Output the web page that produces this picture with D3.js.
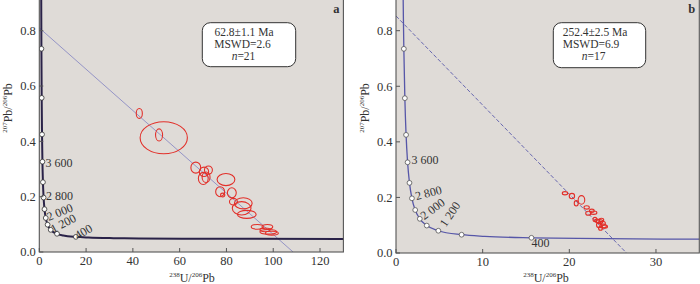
<!DOCTYPE html>
<html>
<head>
<meta charset="utf-8">
<script src="https://cdn.jsdelivr.net/npm/d3@7"></script>
<style>
body { margin: 0; background: #fff; }
svg text { font-family: "Liberation Serif", "Times New Roman", serif; fill: #333; }
</style>
</head>
<body>
<div id="chart"></div>
<script>
// Tera-Wasserburg concordia (age Ma, 238U/206Pb, 207Pb/206Pb)
var concAge = [40, 50, 100, 150, 200, 300, 400, 600, 800, 1200, 1600, 2000, 2400, 2800, 3200, 3600, 4000, 4400, 4800, 5000, 5200];
var concX = [160.6, 128.4, 63.97, 42.48, 31.73, 20.99, 15.63, 10.25, 7.57, 4.888, 3.55, 2.748, 2.217, 1.838, 1.556, 1.337, 1.163, 1.022, 0.905, 0.853, 0.806];
var concY = [0.0468, 0.0470, 0.0480, 0.0491, 0.0501, 0.0523, 0.0547, 0.0599, 0.0658, 0.0801, 0.0987, 0.1230, 0.1548, 0.1968, 0.2524, 0.3264, 0.4251, 0.5572, 0.7347, 0.8455, 0.973];
var markerAges = [400, 800, 1200, 1600, 2000, 2400, 2800, 3200, 3600, 4000, 4400, 4800];

// error ellipses: [x, y, rx, ry]
var ellipsesA = [
  [42.75, 0.501, 1.3, 0.018],
  [53.2, 0.413, 10.1, 0.058],
  [51.2, 0.423, 1.5, 0.022],
  [66.9, 0.305, 2.1, 0.020],
  [70.4, 0.290, 2.0, 0.017],
  [72.3, 0.296, 1.7, 0.015],
  [70.1, 0.266, 2.1, 0.022],
  [71.3, 0.270, 1.7, 0.019],
  [79.8, 0.262, 3.8, 0.022],
  [77.3, 0.218, 1.9, 0.018],
  [78.4, 0.206, 0.9, 0.007],
  [82.3, 0.214, 1.9, 0.018],
  [83.0, 0.182, 1.7, 0.012],
  [87.2, 0.176, 3.8, 0.020],
  [86.5, 0.158, 4.0, 0.024],
  [88.7, 0.136, 4.0, 0.0145],
  [93.2, 0.091, 2.6, 0.0085],
  [97.5, 0.091, 2.3, 0.0085],
  [96.5, 0.080, 2.2, 0.007],
  [97.9, 0.073, 3.6, 0.0085],
  [99.4, 0.068, 2.8, 0.007]
];
var ellipsesB = [
  [19.5, 0.215, 0.31, 0.006],
  [20.3, 0.205, 0.31, 0.0096],
  [20.8, 0.179, 0.23, 0.0096],
  [21.4, 0.191, 0.38, 0.0156],
  [22.0, 0.164, 0.31, 0.006],
  [22.2, 0.143, 0.31, 0.0072],
  [22.6, 0.152, 0.27, 0.006],
  [22.8, 0.145, 0.38, 0.006],
  [22.96, 0.121, 0.23, 0.0072],
  [23.2, 0.116, 0.27, 0.006],
  [23.7, 0.119, 0.27, 0.006],
  [23.5, 0.113, 0.38, 0.0072],
  [23.85, 0.107, 0.31, 0.0072],
  [23.45, 0.101, 0.31, 0.0096],
  [23.9, 0.097, 0.38, 0.0072],
  [24.1, 0.095, 0.31, 0.006],
  [23.6, 0.089, 0.23, 0.0072]
];

var discordiaA = [[0, 0.81], [108.5, 0]];
var discordiaB = [[0, 0.853], [26.6, 0]];

var xTicksA = [0, 20, 40, 60, 80, 100, 120];
var xTicksB = [0, 10, 20, 30];
var yTicks = [0, 0.2, 0.4, 0.6, 0.8];

var boxTextA = ["62.8\u00b11.1 Ma", "MSWD=2.6", "=21"];
var boxTextB = ["252.4\u00b12.5 Ma", "MSWD=6.9", "=17"];

var width = 700, height = 284;

var svg = d3.select("#chart").append("svg")
    .attr("width", width)
    .attr("height", height);

var conc = concAge.map(function(a, i) { return {age: a, x: concX[i], y: concY[i]}; })
    .sort(function(p, q) { return p.x - q.x; });

function drawPanel(p) {
    var x = d3.scaleLinear().domain(p.xDomain).range([p.left, p.right]);
    var y = d3.scaleLinear().domain([0, 0.8]).range([p.bottom, p.y08]);
    var top = -2;
    var g = svg.append("g");

    g.append("clipPath").attr("id", "clip" + p.id)
      .append("rect")
        .attr("x", p.left).attr("y", top)
        .attr("width", p.right - p.left).attr("height", p.bottom - top);

    g.append("rect")
        .attr("x", p.left).attr("y", top)
        .attr("width", p.right - p.left).attr("height", p.bottom - top)
        .attr("fill", "#dfdbd7");

    var inner = g.append("g").attr("clip-path", "url(#clip" + p.id + ")");

    // discordia
    inner.append("line")
        .attr("x1", x(p.disc[0][0])).attr("y1", y(p.disc[0][1]))
        .attr("x2", x(p.disc[1][0])).attr("y2", y(p.disc[1][1]))
        .attr("stroke", p.discColor)
        .attr("stroke-width", 0.9)
        .attr("stroke-dasharray", p.dash);

    // concordia
    var line = d3.line()
        .x(function(d) { return x(d.x); })
        .y(function(d) { return y(d.y); })
        .curve(d3.curveMonotoneX);
    inner.append("path")
        .attr("d", line(conc))
        .attr("fill", "none")
        .attr("stroke", p.concColor)
        .attr("stroke-width", p.concWidth);

    // ellipses
    inner.selectAll("ellipse")
        .data(p.ellipses)
      .enter().append("ellipse")
        .attr("cx", function(d) { return x(d[0]); })
        .attr("cy", function(d) { return y(d[1]); })
        .attr("rx", function(d) { return x(d[2]) - x(0); })
        .attr("ry", function(d) { return y(0) - y(d[3]); })
        .attr("fill", "none")
        .attr("stroke", "#e2302a")
        .attr("stroke-width", 1.1);

    // age markers
    var marks = conc.filter(function(d) { return markerAges.indexOf(d.age) >= 0; });
    inner.selectAll("circle")
        .data(marks)
      .enter().append("circle")
        .attr("cx", function(d) { return x(d.x); })
        .attr("cy", function(d) { return y(d.y); })
        .attr("r", 2.4)
        .attr("fill", "#fff")
        .attr("stroke", p.markColor)
        .attr("stroke-width", 0.8);

    p.ageLabels.forEach(function(l) {
        var d = conc.filter(function(c) { return c.age === l.age; })[0];
        var px = x(d.x) + l.dx, py = y(d.y) + l.dy;
        g.append("text")
            .attr("transform", "translate(" + px + "," + py + ") rotate(" + l.rot + ")")
            .attr("font-size", 12)
            .text(l.text);
    });

    // frame
    g.append("rect")
        .attr("x", p.left).attr("y", top)
        .attr("width", p.right - p.left).attr("height", p.bottom - top)
        .attr("fill", "none")
        .attr("stroke", "#555")
        .attr("stroke-width", 1.1);

    // ticks (inward)
    g.selectAll(".yt").data(yTicks).enter().append("line")
        .attr("x1", p.left).attr("x2", p.left + 4)
        .attr("y1", function(d) { return y(d); }).attr("y2", function(d) { return y(d); })
        .attr("stroke", "#555");
    g.selectAll(".yl").data(yTicks).enter().append("text")
        .attr("x", p.left - 3.5)
        .attr("y", function(d) { return y(d) + 4.3; })
        .attr("text-anchor", "end")
        .attr("font-size", 12.5)
        .text(function(d) { return d.toFixed(1); });
    g.selectAll(".xt").data(p.xTicks).enter().append("line")
        .attr("y1", p.bottom).attr("y2", p.bottom - 4)
        .attr("x1", function(d) { return x(d); }).attr("x2", function(d) { return x(d); })
        .attr("stroke", "#555");
    g.selectAll(".xl").data(p.xTicks).enter().append("text")
        .attr("x", function(d) { return x(d); })
        .attr("y", p.bottom + 12.5)
        .attr("text-anchor", "middle")
        .attr("font-size", 12.5)
        .text(function(d) { return d; });

    // axis titles
    var xt = g.append("text")
        .attr("x", p.xTitleX).attr("y", 282)
        .attr("text-anchor", "middle")
        .attr("font-size", 12);
    xt.append("tspan").attr("font-size", 7).attr("dy", -5).text("238");
    xt.append("tspan").attr("dy", 5).text("U/");
    xt.append("tspan").attr("font-size", 7).attr("dy", -5).text("206");
    xt.append("tspan").attr("dy", 5).text("Pb");

    var yt = g.append("text")
        .attr("transform", "translate(" + p.yTitleX + "," + p.yTitleY + ") rotate(-90)")
        .attr("text-anchor", "middle")
        .attr("font-size", 12);
    yt.append("tspan").attr("font-size", 7).attr("dy", -5).text("207");
    yt.append("tspan").attr("dy", 5).text("Pb/");
    yt.append("tspan").attr("font-size", 7).attr("dy", -5).text("206");
    yt.append("tspan").attr("dy", 5).text("Pb");

    // result box
    g.append("rect")
        .attr("x", p.box[0]).attr("y", p.box[1])
        .attr("width", p.box[2]).attr("height", p.box[3])
        .attr("rx", 8).attr("ry", 8)
        .attr("fill", "#fff")
        .attr("stroke", "#333")
        .attr("stroke-width", 1);
    p.boxText.forEach(function(t, i) {
        var tx = g.append("text")
            .attr("x", p.boxTextX[i])
            .attr("y", p.box[1] + 13.5 + i * 12)
            .attr("text-anchor", p.boxAnchor)
            .attr("font-size", 11.5)
            .attr("fill", "#222");
        if (i === 2) {
            tx.append("tspan").attr("font-style", "italic").text("n");
            tx.append("tspan").text(t);
        } else {
            tx.text(t);
        }
    });

    g.append("text")
        .attr("x", p.right - 4).attr("y", 13)
        .attr("text-anchor", "end")
        .attr("font-size", 12.5)
        .attr("font-weight", "bold")
        .attr("fill", "#222")
        .text(p.id);
}

drawPanel({
    id: "a",
    xDomain: [0, 130], left: 39.3, right: 343.4, bottom: 252, y08: 30.7,
    xTicks: xTicksA,
    ellipses: ellipsesA,
    disc: discordiaA, discColor: "#8c8cc4", dash: null,
    concColor: "#2a2248", concWidth: 2, markColor: "#333",
    ageLabels: [
        {age: 3600, text: "3 600", dx: 3, dy: 5, rot: 0},
        {age: 2800, text: "2 800", dx: 2.5, dy: 2, rot: 0},
        {age: 2000, text: "2 000", dx: 3, dy: 3, rot: -22},
        {age: 1200, text: "1 200", dx: 2.5, dy: 3.5, rot: -28},
        {age: 400, text: "400", dx: 2, dy: 3, rot: -31}
    ],
    xTitleX: 192, yTitleX: 12, yTitleY: 108,
    box: [202.3, 22.7, 93.4, 44], boxText: boxTextA,
    boxTextX: [244, 242.5, 243.5], boxAnchor: "middle"
});

drawPanel({
    id: "b",
    xDomain: [0, 35], left: 396, right: 699.3, bottom: 253, y08: 30.7,
    xTicks: xTicksB,
    ellipses: ellipsesB,
    disc: discordiaB, discColor: "#5a5aaa", dash: "4,2",
    concColor: "#5656a8", concWidth: 1.3, markColor: "#555",
    ageLabels: [
        {age: 3600, text: "3 600", dx: 4, dy: 1.5, rot: 0},
        {age: 2800, text: "2 800", dx: 4.5, dy: 2, rot: -15},
        {age: 2000, text: "2 000", dx: 4.5, dy: 1.5, rot: -37},
        {age: 1200, text: "1 200", dx: 7.5, dy: -3, rot: -56},
        {age: 400, text: "400", dx: 0, dy: 9.5, rot: 0}
    ],
    xTitleX: 546, yTitleX: 369, yTitleY: 108,
    box: [553.3, 22.7, 92.4, 45], boxText: boxTextB,
    boxTextX: [562.7, 562.7, 581.7], boxAnchor: "start"
});
</script>
</body>
</html>
